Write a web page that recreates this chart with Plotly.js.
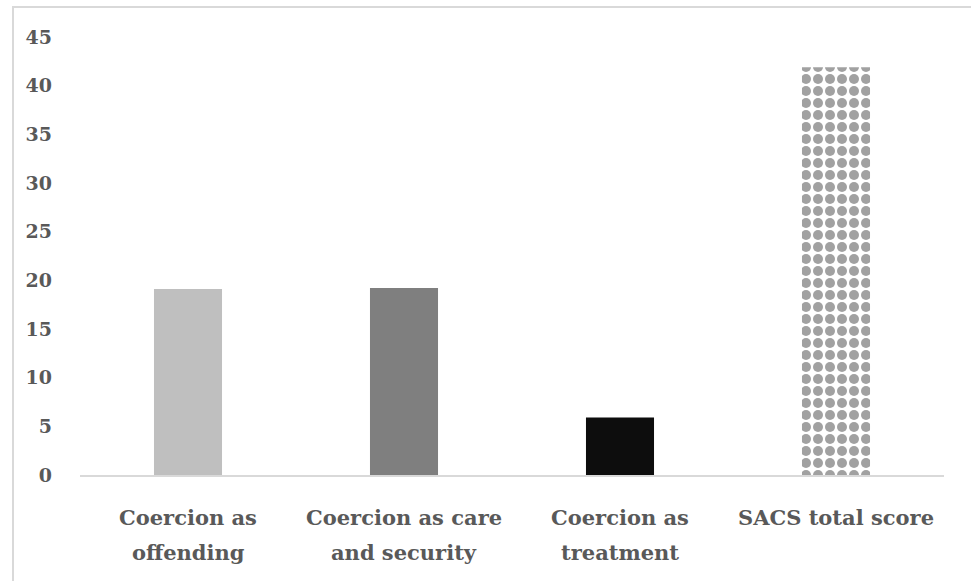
<!DOCTYPE html>
<html>
<head>
<meta charset="utf-8">
<script src="https://cdn.plot.ly/plotly-3.0.1.min.js"></script>
<style>
  html, body { margin: 0; padding: 0; background: #ffffff; }
  #wrap { position: relative; width: 971px; height: 581px; overflow: hidden; }
  #chart { position: absolute; left: 0; top: 0; width: 971px; height: 581px; }
  #frame { position: absolute; left: 12px; top: 6px; width: 1000px; height: 600px;
           border-left: 2px solid #d9d9d9; border-top: 2px solid #d9d9d9; pointer-events: none; }
</style>
</head>
<body>
<div id="wrap">
  <div id="chart"></div>
  <div id="frame"></div>
</div>
<script>
// ---- data ----
const categories = ["Coercion as offending", "Coercion as care and security", "Coercion as treatment", "SACS total score"];
const labelLines = [["Coercion as", "offending"], ["Coercion as care", "and security"], ["Coercion as", "treatment"], ["SACS total score"]];
const values = [19.1, 19.2, 5.9, 41.9];
const yTicks = [0, 5, 10, 15, 20, 25, 30, 35, 40, 45];

// ---- styles ----
const barColors = ["#bfbfbf", "#7f7f7f", "#0d0d0d", "#ffffff"];
const patternShapes = ["", "", "", "."];
const patternFg = ["#bfbfbf", "#7f7f7f", "#0d0d0d", "#a6a6a6"];
const textColor = "#595959";
const fontFamily = "DejaVu Serif, Liberation Serif, serif";

const trace = {
  type: "bar",
  x: categories,
  y: values,
  marker: {
    color: barColors,
    line: { width: 0 },
    pattern: {
      shape: patternShapes,
      fgcolor: patternFg,
      size: 12,
      solidity: 0.55,
      fillmode: "overlay"
    }
  },
  hoverinfo: "x+y"
};

const annotations = [];
labelLines.forEach((lines, i) => {
  lines.forEach((txt, j) => {
    annotations.push({
      x: categories[i], xref: "x",
      y: 0, yref: "paper",
      yanchor: "top", xanchor: "center",
      yshift: -28 - j * 35,
      text: txt,
      showarrow: false,
      font: { family: fontFamily, size: 21, color: textColor, weight: "bold" }
    });
  });
});

const layout = {
  width: 971, height: 581,
  margin: { l: 80, r: 27, t: 37, b: 106, pad: 0 },
  paper_bgcolor: "#ffffff",
  plot_bgcolor: "#ffffff",
  showlegend: false,
  bargap: 0.685,
  xaxis: {
    type: "category",
    showticklabels: false,
    ticks: "",
    showgrid: false,
    showline: true,
    linecolor: "#d9d9d9",
    linewidth: 2,
    zeroline: false,
    fixedrange: true
  },
  yaxis: {
    range: [0, 45],
    tickvals: yTicks,
    ticktext: yTicks.map(String),
    showgrid: false,
    zeroline: false,
    showline: false,
    ticks: "",
    ticklabelstandoff: 27,
    tickfont: { family: fontFamily, size: 19, color: textColor, weight: "bold" },
    fixedrange: true
  },
  annotations: annotations
};

Plotly.newPlot("chart", [trace], layout, { displayModeBar: false, staticPlot: true });
</script>
</body>
</html>
